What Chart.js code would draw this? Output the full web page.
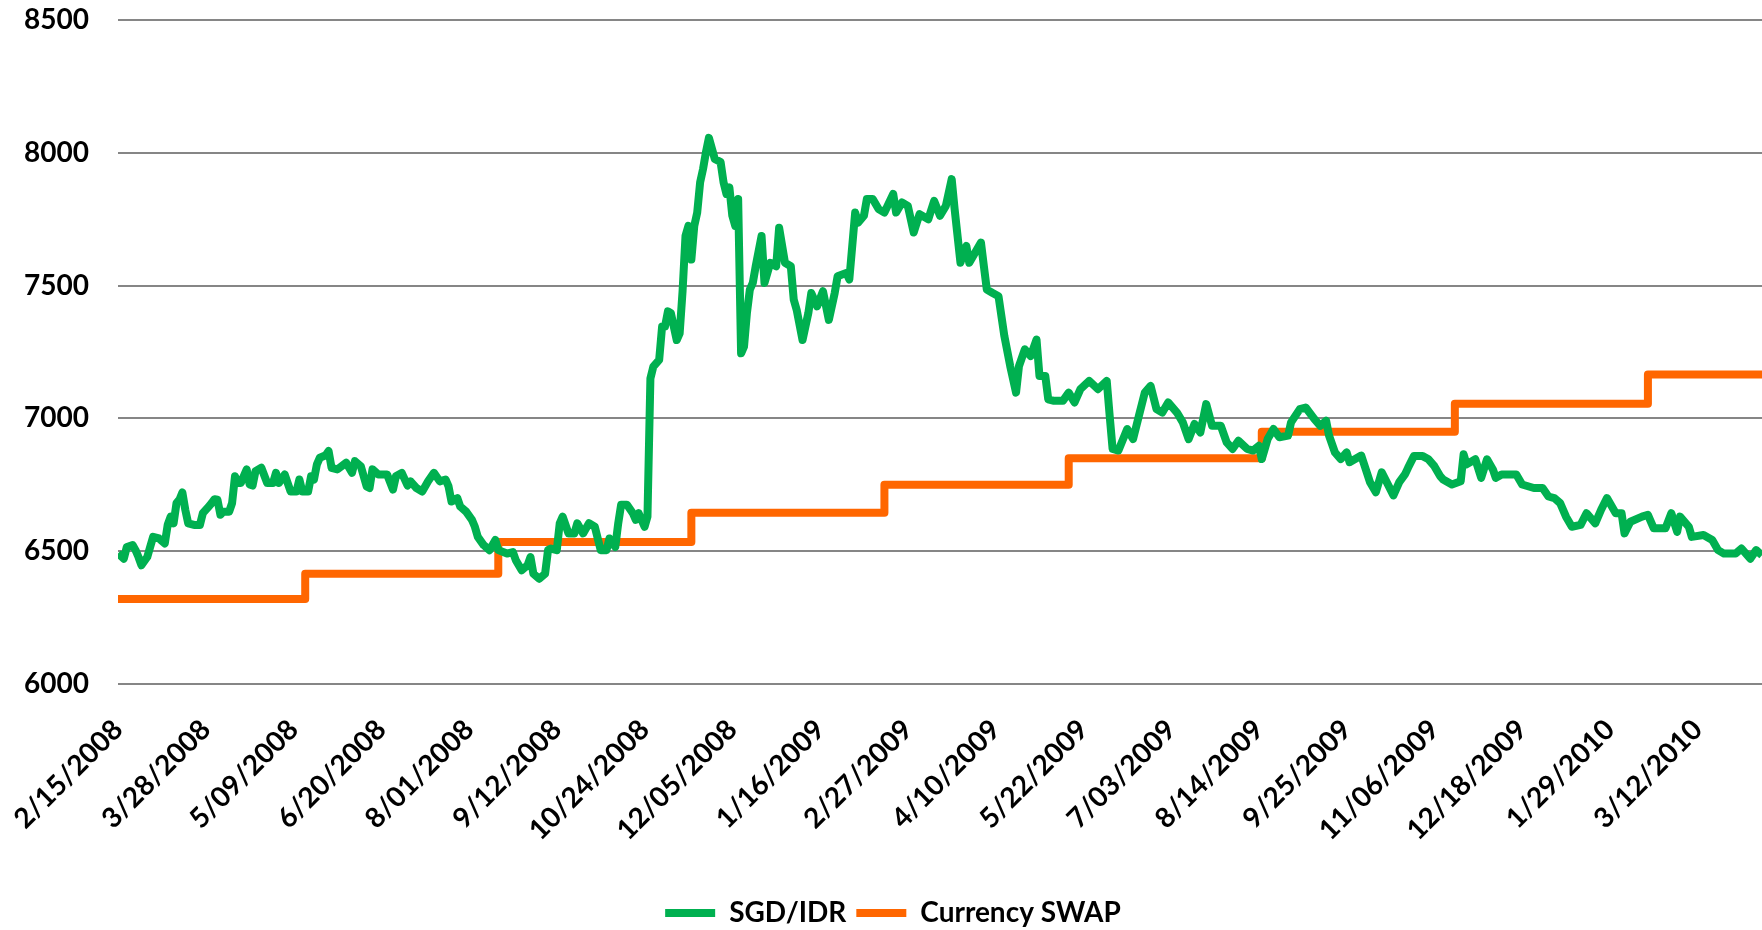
<!DOCTYPE html>
<html>
<head>
<meta charset="utf-8">
<script src="https://cdn.jsdelivr.net/npm/chart.js@4"></script>
<style>
  html, body { margin: 0; padding: 0; background: #ffffff; }
  #wrap { width: 1762px; height: 930px; position: relative; }
</style>
</head>
<body>
<div id="wrap"><canvas id="c"></canvas></div>
<script>
// ---- data (x = trading-day number counted from 2/15/2008) ----
const tickLabels = ["2/15/2008","3/28/2008","5/09/2008","6/20/2008","8/01/2008","9/12/2008",
  "10/24/2008","12/05/2008","1/16/2009","2/27/2009","4/10/2009","5/22/2009","7/03/2009",
  "8/14/2009","9/25/2009","11/06/2009","12/18/2009","1/29/2010","3/12/2010"];
const tickEvery = 30;   // trading days between two labels
const lastDay = 562;    // last trading day shown

const sgdDay = [0,2,3,5,6,7,8,10,11,12,14,16,17,18,19,20,21,22,23,24,26,28,29,31,32,33,34,35,36,38,39,40,41,42,44,45,46,47,49,51,53,54,55,57,59,61,62,63,65,66,67,68,69,71,72,73,75,78,80,81,83,85,86,87,89,92,94,95,97,99,100,102,104,106,108,110,112,113,114,116,117,119,121,122,123,125,127,129,130,133,135,136,138,140,141,142,144,146,147,148,150,151,152,154,156,157,159,161,163,165,167,168,170,171,172,174,176,177,178,180,181,182,
183,185,186,187,188,189,191,192,193,194,195,196,197,198,199,200,201,202,204,206,207,208,209,210,211,212,213,214,215,216,217,218,220,221,222,223,225,226,228,230,231,232,234,236,237,239,241,243,245,246,249,250,252,253,255,256,258,260,262,265,266,268,270,272,274,277,279,281,283,285,286,288,289,290,291,295,296,297,299,301,
303,305,307,308,310,312,314,315,317,318,320,323,325,327,329,332,335,338,339,340,342,345,347,349,351,353,355,357,359,362,364,366,368,370,372,374,377,379,381,383,386,388,390,391,393,395,397,400,401,404,406,409,411,413,414,416,418,420,421,425,428,430,432,436,438,
440,441,443,446,448,450,452,453,456,459,460,461,464,466,468,470,471,473,476,478,480,484,487,489,491,493,495,497,500,502,505,507,509,512,514,515,517,521,523,525,529,531,533,534,537,538,542,545,547,549,553,555,558,560,562];
const sgdRate = [6491,6472,6516,6523,6504,6478,6447,6478,6516,6554,6548,6529,6600,6630,6605,6681,6694,6721,6656,6605,6599,6599,6643,6668,6681,6696,6694,6637,6649,6649,6681,6782,6757,6757,6808,6751,6747,6801,6814,6757,6757,6795,6757,6789,6725,6725,6770,6725,6725,6782,6770,6827,6852,6861,6877,6814,6808,6833,6795,6839,6820,6744,6738,6808,6789,6789,6732,6782,6795,6747,6763,6738,6725,6763,6795,6763,6770,6744,6687,6700,6668,6649,6618,6592,6554,6523,6504,6542,6504,6491,6497,6466,6428,6447,6478,6415,6396,6415,6504,6510,6504,6605,6630,6567,6567,6605,6567,6605,6592,6504,6504,6548,6516,6605,6675,6675,6643,6618,6643,6592,6630,7150,
7195,7220,7346,7346,7403,7396,7295,7320,7480,7687,7725,7598,7725,7775,7889,7939,8003,8056,7977,7965,7889,7845,7870,7763,7725,7826,7245,7270,7397,7485,7510,7573,7687,7510,7548,7586,7573,7718,7586,7573,7447,7409,7295,7397,7472,7422,7479,7371,7472,7535,7548,7523,7775,7737,7763,7826,7826,7788,7775,7845,7775,7813,7800,7700,7769,7750,7819,7763,7800,7901,7788,7586,7624,7649,7586,7662,7573,7485,7472,7460,
7310,7197,7097,7197,7260,7235,7297,7160,7160,7072,7066,7066,7097,7060,7110,7141,7110,7141,7010,6885,6879,6960,6922,7010,7097,7122,7035,7022,7060,7022,6985,6922,6979,6947,7054,6972,6972,6910,6885,6916,6885,6879,6897,6847,6922,6960,6929,6935,6985,7035,7041,6997,6972,6991,6935,6872,6847,6872,6835,6860,6760,6722,6797,6710,6760,
6790,6814,6858,6858,6846,6820,6782,6770,6751,6763,6865,6827,6846,6776,6846,6808,6776,6789,6789,6789,6751,6738,6738,6706,6700,6681,6630,6592,6599,6643,6605,6656,6700,6643,6643,6567,6611,6630,6637,6586,6586,6643,6573,6630,6592,6554,6561,6542,6504,6491,6491,6510,6472,6504,6485];

const swapDay  = [0, 64, 130, 196, 262, 325, 391, 457, 523, 562];
const swapRate = [6320, 6415, 6535, 6645, 6750, 6850, 6950, 7055, 7165, 7165];

// ---- chart ----
const toPoints = (xs, ys) => xs.map((x, i) => ({ x: x, y: ys[i] }));
const fontFamily = "Lato, 'Noto Sans', 'DejaVu Sans', sans-serif";
const labelFont = { family: fontFamily, size: 28, weight: 'bold' };

new Chart(document.getElementById('c'), {
  type: 'line',
  data: {
    datasets: [
      {
        label: 'SGD/IDR',
        data: toPoints(sgdDay, sgdRate),
        borderColor: '#00B050',
        backgroundColor: '#00B050',
        borderWidth: 8,
        pointRadius: 0,
        tension: 0,
        borderJoinStyle: 'round'
      },
      {
        label: 'Currency SWAP',
        data: toPoints(swapDay, swapRate),
        borderColor: '#FF6600',
        backgroundColor: '#FF6600',
        borderWidth: 8,
        pointRadius: 0,
        stepped: 'before',
        borderJoinStyle: 'round'
      }
    ]
  },
  options: {
    responsive: true,
    maintainAspectRatio: false,
    animation: false,
    devicePixelRatio: 1,
    layout: { padding: { left: 24, top: 20, right: 0, bottom: -7 } },
    plugins: {
      tooltip: { enabled: false },
      legend: {
        position: 'bottom',
        labels: {
          color: '#000',
          font: labelFont,
          boxWidth: 50,
          boxHeight: 8,
          padding: 10,
          generateLabels: (chart) => chart.data.datasets.map((ds, i) => ({
            text: ds.label,
            fillStyle: ds.borderColor,
            strokeStyle: ds.borderColor,
            lineWidth: 0,
            hidden: false,
            datasetIndex: i,
            fontColor: '#000'
          }))
        }
      }
    },
    scales: {
      x: {
        type: 'linear',
        min: 0,
        max: lastDay,
        grid: { display: false, drawTicks: false },
        border: { display: false },
        afterBuildTicks: (scale) => {
          scale.ticks = tickLabels.map((_, i) => ({ value: i * tickEvery }));
        },
        afterFit: (scale) => {
          scale.height = 205;
          scale.paddingLeft = 0;
          scale.paddingRight = 0;
        },
        ticks: {
          autoSkip: false,
          minRotation: 45,
          maxRotation: 45,
          padding: 29,
          color: '#000',
          font: labelFont,
          callback: (value) => tickLabels[Math.round(value / tickEvery)]
        }
      },
      y: {
        min: 6000,
        max: 8500,
        grid: { color: '#868686', lineWidth: 2, drawTicks: false },
        border: { display: false },
        afterFit: (scale) => {
          scale.width = 94;
          scale.paddingTop = 0;
          scale.paddingBottom = 0;
        },
        ticks: {
          stepSize: 500,
          padding: 29,
          color: '#000',
          font: labelFont,
          callback: (value) => String(value)
        }
      }
    }
  }
});
</script>
</body>
</html>
